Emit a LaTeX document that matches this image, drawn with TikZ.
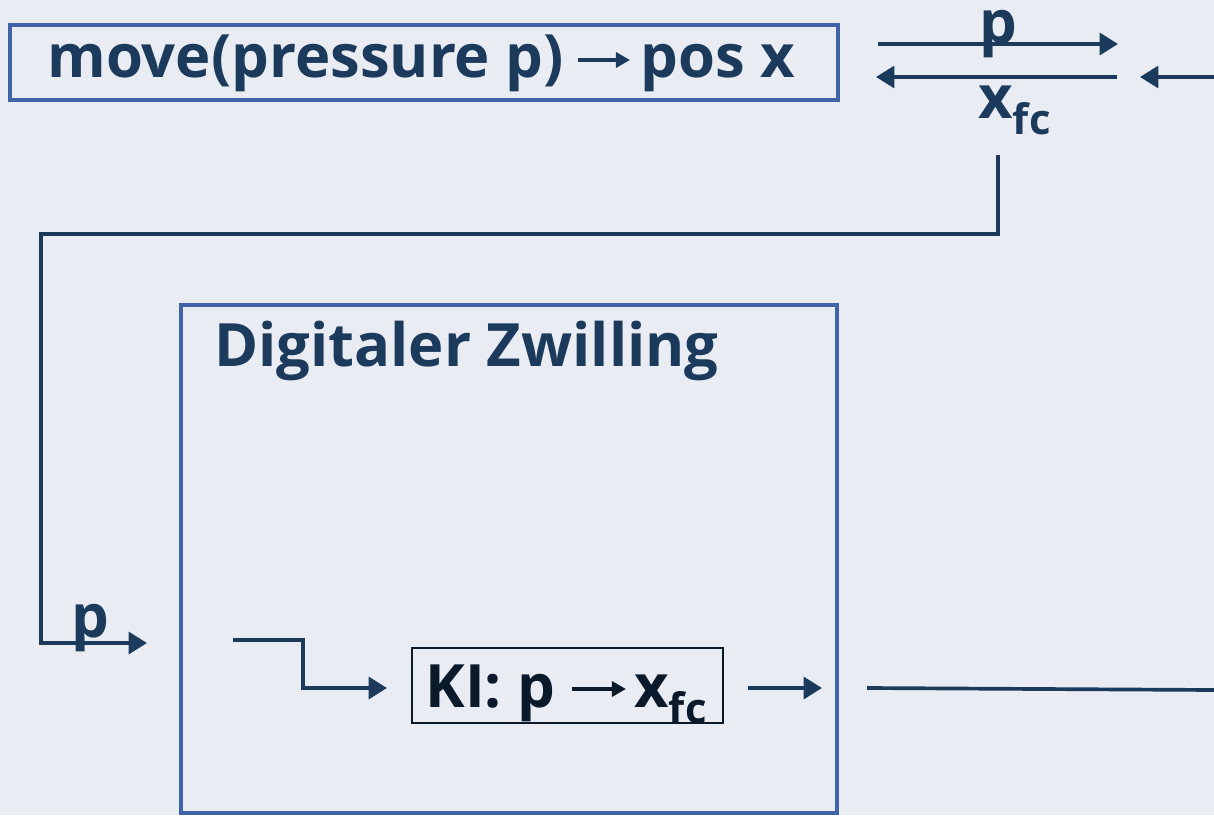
\documentclass[tikz,border=0pt]{standalone}
\usepackage{fontspec}
\setmainfont{Open Sans}
\usetikzlibrary{arrows.meta,positioning}

\definecolor{bgcol}{HTML}{E9EDF3}
\definecolor{navy}{HTML}{1B3A5C}
\definecolor{frame}{HTML}{4164A6}
\definecolor{ink}{HTML}{0B1A2A}

\begin{document}
\begin{tikzpicture}[x=0.02cm,y=-0.02cm,
	flow/.style={navy,line width=2.1pt},
	arr/.style={flow,-{Triangle[length=10.5pt,width=12.5pt]}},
	tarr/.style={line width=2.3pt,-{Triangle[length=8pt,width=8.5pt]}},
	lbl/.style={text=navy,font=\fontsize{34}{40}\bfseries\selectfont,inner sep=0pt},
	ki/.style={text=ink,font=\fontsize{34}{40}\bfseries\selectfont,inner sep=0pt}]
	\fill[bgcol] (0,0) rectangle (1214,815);
	\useasboundingbox (0,0) rectangle (1214,815);

	% top box
	\draw[frame,line width=2.3pt] (10,25) rectangle (838,100);
	\node[lbl,anchor=base west] (move) at (47,77) {move(pressure p)};
	\node[lbl,anchor=base west] (pos) at (640,77) {pos x};
	\coordinate (ma) at (578,60);
	\coordinate (mb) at (630,60);
	\draw[tarr,navy] (ma) -- (mb);

	% exchange with the real system
	\coordinate (pa) at (878,44);
	\coordinate (pb) at (1118,44);
	\coordinate (xa) at (1117,77);
	\coordinate (xb) at (876,77);
	\coordinate (ra) at (1214,77);
	\coordinate (rb) at (1140,77);
	\draw[arr] (pa) -- (pb);
	\draw[arr] (xa) -- (xb);
	\draw[arr] (ra) -- (rb);
	\node[lbl,anchor=base] (ptop) at (998,43) {p};
	\node[lbl,anchor=base west] (xtop) at (978,118) {x\textsubscript{fc}};

	% feedback line
	\coordinate (fa) at (998,155);
	\coordinate (fb) at (147,643);
	\draw[arr] (fa) -- (998,234) -- (41,234) -- (41,643) -- (fb);
	\node[lbl,anchor=base] (pleft) at (90,637) {p};

	% digital twin
	\draw[frame,line width=2.3pt] (181,305) rectangle (837,813);
	\node[lbl,anchor=base west] (twin) at (214,366) {Digitaler Zwilling};

	\node[draw=ink,line width=1.4pt,minimum width=311*0.02cm,minimum height=75*0.02cm,inner sep=0pt] (kibox) at (567.5,685.5) {};
	\node[ki,anchor=base west] (ki) at (425,707) {KI: p};
	\node[ki,anchor=base west] (kix) at (634,707) {x\textsubscript{fc}};
	\coordinate (ka) at (572,689);
	\coordinate (kb) at (626,689);
	\draw[tarr,ink] (ka) -- (kb);

	\coordinate (ia) at (233,640);
	\coordinate (kin) at (387,688);
	\draw[arr] (ia) -- (303,640) -- (303,688) -- (kin);
	\coordinate (oa) at (748,688);
	\coordinate (ob) at (822,688);
	\draw[arr] (oa) -- (ob);
	\coordinate (la) at (867,688);
	\coordinate (lb) at (1214,690);
	\draw[flow] (la) -- (lb);
\end{tikzpicture}
\end{document}
